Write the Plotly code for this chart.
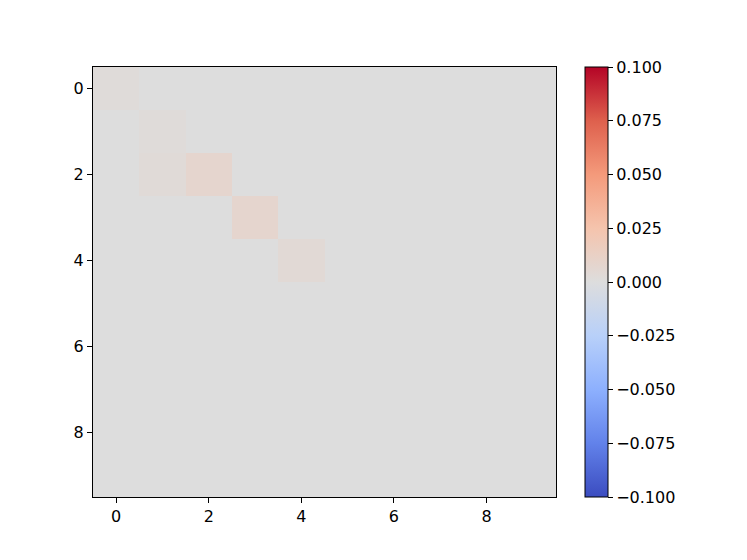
import plotly.graph_objects as go

# Data: 10x10 matrix, mostly zeros with a few small positive values
rows = list(range(10))
cols = list(range(10))
nonzero_cells = [(0, 0, 0.002), (1, 1, 0.002), (2, 1, 0.003), (2, 2, 0.008), (3, 3, 0.008), (4, 4, 0.004)]
z = [[0.0 for _ in cols] for _ in rows]
for r, c, v in nonzero_cells:
    z[r][c] = v

x_ticks = [0, 2, 4, 6, 8]
y_ticks = [0, 2, 4, 6, 8]
cbar_vals = [-0.1, -0.075, -0.05, -0.025, 0.0, 0.025, 0.05, 0.075, 0.1]
cbar_text = ["\u22120.100", "\u22120.075", "\u22120.050", "\u22120.025", "0.000", "0.025", "0.050", "0.075", "0.100"]

coolwarm = [
    [0.0, "rgb(59,76,192)"],
    [0.125, "rgb(98,130,234)"],
    [0.25, "rgb(141,176,254)"],
    [0.375, "rgb(184,208,249)"],
    [0.5, "rgb(221,221,221)"],
    [0.625, "rgb(245,196,173)"],
    [0.75, "rgb(244,154,123)"],
    [0.875, "rgb(222,96,77)"],
    [1.0, "rgb(180,4,38)"],
]

OFF = 8  # page body margin
W, H = 747 - OFF, 560 - OFF
L, R, T, B = 93 - OFF, 556 - OFF, 67 - OFF, 497 - OFF
pw = R - L

fig = go.Figure(go.Heatmap(
    z=z, x=cols, y=rows,
    colorscale=coolwarm, zmin=-0.1, zmax=0.1,
    colorbar=dict(
        x=(585 - 556 + pw) / pw, xanchor="left", xpad=0, ypad=0,
        y=0.5, yanchor="middle", len=1.0, lenmode="fraction",
        thickness=23, thicknessmode="pixels",
        outlinewidth=1, outlinecolor="black",
        ticks="outside", ticklen=5, tickwidth=1, tickcolor="black",
        tickvals=cbar_vals, ticktext=cbar_text,
        tickfont=dict(family="DejaVu Sans", size=16, color="black"),
    ),
    showscale=True,
))

axis_common = dict(
    showgrid=False, zeroline=False, showline=True, linecolor="black", linewidth=1,
    mirror=True, ticks="outside", ticklen=5, tickwidth=1, tickcolor="black",
    tickfont=dict(family="DejaVu Sans", size=16, color="black"),
)

fig.update_layout(
    width=W, height=H,
    margin=dict(l=L, r=W - R, t=T, b=H - B),
    paper_bgcolor="white", plot_bgcolor="white",
    xaxis=dict(range=[-0.5, 9.5], tickvals=x_ticks, **axis_common),
    yaxis=dict(range=[9.5, -0.5], tickvals=y_ticks, **axis_common),
    font=dict(family="DejaVu Sans", size=16, color="black"),
)

fig.write_html("out.html")
